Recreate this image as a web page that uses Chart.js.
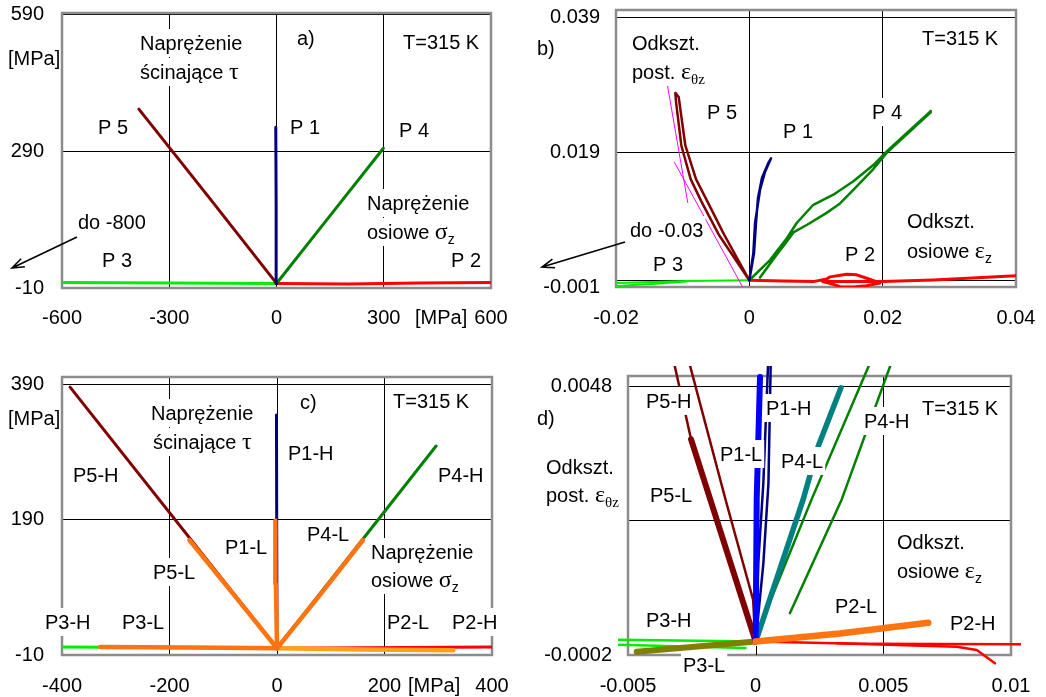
<!DOCTYPE html>
<html>
<head>
<meta charset="utf-8">
<script src="https://cdn.jsdelivr.net/npm/chart.js@4.4.1/dist/chart.umd.min.js"></script>
<style>
  body { margin: 0; background: #fff; }
  #wrap { position: relative; width: 1046px; height: 697px; }
  canvas { position: absolute; }
</style>
</head>
<body>
<div id="wrap">
  <canvas id="ca" width="523" height="345" style="left:0;top:0;width:523px;height:345px"></canvas>
  <canvas id="cb" width="523" height="345" style="left:523px;top:0;width:523px;height:345px"></canvas>
  <canvas id="cc" width="523" height="352" style="left:0;top:345px;width:523px;height:352px"></canvas>
  <canvas id="cd" width="523" height="352" style="left:523px;top:345px;width:523px;height:352px"></canvas>
</div>
<script>
// ---- a) stress paths, sigma_z vs tau [MPa]
const aXTicks = [-600, -300, 0, 300, 600];
const aYTicks = [-10, 290, 590];
const aP1 = [[0, 0], [-1, 170], [-2, 343]];
const aP2 = [[0, 0], [200, -1], [400, 1], [600, 2], [800, 2]];
const aP3 = [[0, 0], [-300, 1], [-600, 2], [-800, 2]];
const aP4 = [[0, 0], [150, 149], [299, 297]];
const aP5 = [[0, 0], [-190, 190], [-385, 383]];

// ---- b) strain paths, eps_z vs eps_thetaz
const bXTicks = [-0.02, 0, 0.02, 0.04];
const bYTicks = [-0.001, 0, 0.019, 0.039];
const bP1 = [[0, 0], [0.0006, 0.004], [0.00086, 0.0085], [0.0016, 0.0134], [0.00236, 0.0161], [0.00326, 0.0181],
             [0.0029, 0.0175], [0.0019, 0.0152], [0.0013, 0.0122], [0.001, 0.0085], [0.0007, 0.004], [0, 0]];
const bP2 = [[0, 0], [0.005, -0.0001], [0.0096, -0.0002], [0.0116, 0.0002], [0.0121, 0.0005], [0.0146, 0.0009],
             [0.0161, 0.0008], [0.0176, 0.0003], [0.0196, -0.0004], [0.0176, -0.0008], [0.0156, -0.001],
             [0.0136, -0.00095], [0.0126, -0.0006], [0.011, -0.0002], [0.015, -0.0002], [0.02, -0.0002],
             [0.0276, 0.00005], [0.041, 0.0007]];
const bP3 = [[0, 0], [-0.0094, -0.0001], [-0.02, -0.0004], [-0.03, -0.0006],
             [-0.03, -0.0011], [-0.02, -0.00085], [-0.014, -0.0005], [-0.0094, -0.0002]];
const bP4 = [[0, 0], [0.0031, 0.003], [0.0056, 0.0062], [0.0071, 0.0085], [0.0096, 0.0112], [0.0126, 0.0127],
             [0.0156, 0.0147], [0.0186, 0.0171], [0.0206, 0.0191], [0.0272, 0.0251],
             [0.0272, 0.0249], [0.0206, 0.0189], [0.0186, 0.0165], [0.0156, 0.0134], [0.0136, 0.0114],
             [0.0116, 0.01], [0.0086, 0.0082], [0.0066, 0.0071], [0.0056, 0.0057], [0.0041, 0.0038], [0.0016, 0.0004]];
const bP5 = [[0, 0], [-0.0046, 0.0068], [-0.0072, 0.0117], [-0.0088, 0.015], [-0.0102, 0.02], [-0.011, 0.0265],
             [-0.0111, 0.0278], [-0.0106, 0.0272], [-0.0096, 0.02], [-0.008, 0.015], [-0.0063, 0.0117],
             [-0.0038, 0.0068], [0, 0]];
const bFit1 = [[-0.01254, 0.0304], [-0.00924, 0.01153]];
const bFit2 = [[-0.01125, 0.01753], [-0.0009, -0.0012]];

// ---- c) stress paths, H and L levels [MPa]
const cXTicks = [-400, -200, 0, 200, 400];
const cYTicks = [-10, 190, 390];
const cP1H = [[0, 0], [-1, 345]];
const cP2H = [[0, 0], [400, 2], [450, 2]];
const cP3H = [[0, 0], [-400, 2], [-450, 2]];
const cP4H = [[0, 0], [296, 299]];
const cP5H = [[0, 0], [-385, 386]];
const cP1L = [[0, 0], [-2, 95], [-3, 189]];
const cP2L = [[0, 0], [160, -2], [328, -3]];
const cP3L = [[0, 0], [-160, 1], [-329, 2]];
const cP4L = [[0, 0], [80, 79], [160, 160]];
const cP5L = [[0, 0], [-80, 79], [-163, 160]];

// ---- d) strain paths, H and L levels
const dXTicks = [-0.005, 0, 0.005, 0.01];
const dYTicks = [-0.0002, 0.0023, 0.0048];
const dP1H = [[0, 0.00005], [0.0001, 0.0015], [0.0003, 0.003], [0.00055, 0.006],
              [0.00062, 0.006], [0.0005, 0.003], [0.0003, 0.0015], [0, 0.00005]];
const dP2H = [[0, 0.00005], [0.004, 0.00001], [0.012, 0]];
const dP2Hb = [[0.00317, 0.00002], [0.00787, -0.000045], [0.00866, -0.000106], [0.00937, -0.000355]];
const dP3H = [[0, 0.00005], [-0.006, 0.00009], [-0.006, 0], [-0.0004, -0.00007]];
const dP4H = [[0, 0.00005], [0.00043, 0.00064], [0.00219, 0.0027], [0.00516, 0.006],
              [0.00589, 0.006], [0.00337, 0.0027], [0.00134, 0.00058]];
const dP5H = [[0, 0.00005], [-0.00253, 0.00382], [-0.00355, 0.006], [-0.00302, 0.006],
              [-0.00116, 0.00266], [-0.0001, 0.00083], [0, 0.00005]];
const dP1L = [[0, 0.00005], [0.00004, 0.0027], [0.00017, 0.00498]];
const dP2L = [[0, 0.00005], [0.0033, 0.0002], [0.00676, 0.0004]];
const dP3L = [[0, 0.00005], [-0.00466, -0.00014]];
const dP4L = [[0, 0.00005], [0.00186, 0.0027], [0.00245, 0.00369], [0.00334, 0.00478]];
const dP5L = [[0, 0.00005], [-0.00253, 0.00382]];

const col = {
  brown: '#800000', navy: '#000080', green: '#008000', lime: '#00ee00', red: '#ff0000',
  magenta: '#ff00ff', blue: '#0000ff', teal: '#008080', olive: '#808000',
  orange: '#ff7410', orange2: '#ffa01c'
};

const FONTS = {
  s: { f: '20px "Liberation Sans", Arial, sans-serif', dy: 0 },
  g: { f: '24px "Liberation Serif", "Times New Roman", serif', dy: 0 },
  sub: { f: '14px "Liberation Sans", Arial, sans-serif', dy: 5 },
  subg: { f: '15px "Liberation Serif", "Times New Roman", serif', dy: 5 }
};
const TAU = [['ścinające ', 's'], ['τ', 'g']];
const SIGZ = [['osiowe ', 's'], ['σ', 'g'], ['z', 'sub']];
const EPSZ = [['osiowe ', 's'], ['ε', 'g'], ['z', 'sub']];
const EPSTZ = [['post. ', 's'], ['ε', 'g'], ['θz', 'subg']];

// labels: [text, x, y(centre), background?]  (canvas pixels)
const ANNOT = {
  ca: {
    labels: [
      ['[MPa]', 8, 58, false], ['Naprężenie', 140, 43], [TAU, 140, 72], ['a)', 297, 38],
      ['T=315 K', 403, 42], ['P 5', 98, 127], ['P 1', 290, 127], ['P 4', 399, 130],
      ['Naprężenie', 367, 203], [SIGZ, 367, 232], ['do -800', 78, 222], ['P 3', 102, 260],
      ['P 2', 451, 260], ['[MPa]', 415, 317, false]
    ],
    arrows: [[77, 237, 12, 268]]
  },
  cb: {
    labels: [
      ['b)', 14, 48, false], ['Odkszt.', 109, 43], [EPSTZ, 109, 72], ['P 5', 184, 112],
      ['P 1', 260, 131], ['P 4', 349, 112], ['T=315 K', 399, 38], ['Odkszt.', 384, 221],
      [EPSZ, 384, 251], ['P 2', 322, 254], ['do -0.03', 107, 230], ['P 3', 130, 264]
    ],
    arrows: [[102, 242, 19, 267]]
  },
  cc: {
    labels: [
      ['[MPa]', 8, 73, false], ['Naprężenie', 151, 68], [TAU, 153, 97], ['c)', 300, 57],
      ['T=315 K', 393, 56], ['P1-H', 288, 108], ['P5-H', 73, 130], ['P4-H', 438, 130],
      ['P4-L', 307, 189], ['P1-L', 225, 202], ['Naprężenie', 371, 207], [SIGZ, 371, 235],
      ['P5-L', 153, 227], ['P3-H', 45, 277], ['P3-L', 122, 277], ['P2-L', 387, 277],
      ['P2-H', 452, 277], ['[MPa]', 408, 340, false]
    ],
    arrows: []
  },
  cd: {
    labels: [
      ['d)', 14, 73, false], ['P5-H', 123, 56], ['P1-H', 243, 63], ['T=315 K', 399, 63],
      ['P4-H', 341, 76], ['P1-L', 197, 109], ['P4-L', 258, 116], ['Odkszt.', 23, 122, false],
      [EPSTZ, 23, 150, false], ['P5-L', 127, 150], ['Odkszt.', 374, 197], [EPSZ, 374, 226],
      ['P2-L', 312, 261], ['P3-H', 123, 275], ['P2-H', 427, 278], ['P3-L', 160, 320]
    ],
    arrows: [],
    zeroTick: true
  }
};

function runsOf(t) { return typeof t === 'string' ? [[t, 's']] : t; }

function drawLabel(ctx, lab) {
  const runs = runsOf(lab[0]);
  const x0 = lab[1], cy = lab[2];
  let w = 0;
  for (const [t, k] of runs) { ctx.font = FONTS[k].f; w += ctx.measureText(t).width; }
  if (lab[3] !== false) {
    ctx.fillStyle = '#fff';
    ctx.fillRect(x0 - 2, cy - 14, w + 4, 28);
  }
  ctx.fillStyle = '#000';
  ctx.textAlign = 'left';
  ctx.textBaseline = 'alphabetic';
  let x = x0;
  for (const [t, k] of runs) {
    ctx.font = FONTS[k].f;
    ctx.fillText(t, x, cy + 7 + FONTS[k].dy);
    x += ctx.measureText(t).width;
  }
}

function drawArrow(ctx, a) {
  const [x1, y1, x2, y2] = a;
  const ang = Math.atan2(y2 - y1, x2 - x1);
  ctx.strokeStyle = '#000';
  ctx.lineWidth = 1.6;
  ctx.beginPath();
  ctx.moveTo(x1, y1);
  ctx.lineTo(x2, y2);
  ctx.moveTo(x2 - 13 * Math.cos(ang - 0.35), y2 - 13 * Math.sin(ang - 0.35));
  ctx.lineTo(x2, y2);
  ctx.lineTo(x2 - 13 * Math.cos(ang + 0.35), y2 - 13 * Math.sin(ang + 0.35));
  ctx.stroke();
}

const annotPlugin = {
  id: 'annot',
  beforeDatasetsDraw(chart) {
    const { ctx, chartArea: a } = chart;
    ctx.save();
    ctx.strokeStyle = '#8c8c8c';
    ctx.lineWidth = 2.5;
    ctx.strokeRect(a.left, a.top, a.right - a.left, a.bottom - a.top);
    ctx.restore();
  },
  afterDatasetsDraw(chart) {
    const spec = ANNOT[chart.canvas.id];
    const { ctx, chartArea: a } = chart;
    ctx.save();
    if (spec.zeroTick) {
      const x0 = Math.round(chart.scales.x.getPixelForValue(0)) + 0.5;
      ctx.strokeStyle = '#000';
      ctx.lineWidth = 1;
      ctx.beginPath();
      ctx.moveTo(x0, a.bottom - 9);
      ctx.lineTo(x0, a.bottom);
      ctx.stroke();
    }
    spec.labels.forEach(l => drawLabel(ctx, l));
    spec.arrows.forEach(ar => drawArrow(ctx, ar));
    ctx.restore();
  }
};

function line(pts, color, width) {
  return {
    data: pts.map(p => ({ x: p[0], y: p[1] })),
    showLine: true, borderColor: color, borderWidth: width, pointRadius: 0,
    borderCapStyle: 'round', borderJoinStyle: 'round', fill: false
  };
}

// the scale's own label padding would push the chart area; the layout padding places it instead
function noPad(ax) {
  ax.paddingTop = 0; ax.paddingBottom = 0; ax.paddingLeft = 0; ax.paddingRight = 0;
}

function makeChart(id, o) {
  const tickFont = { family: '"Liberation Sans", Arial, sans-serif', size: 20 };
  const gridColor = (hidden) => (c) => (c.tick && hidden.includes(c.tick.value)) ? 'rgba(0,0,0,0)' : '#000';
  const datasets = o.series.map(d => Object.assign(d, o.clip !== undefined ? { clip: o.clip } : {}));
  return new Chart(document.getElementById(id), {
    type: 'scatter',
    data: { datasets },
    options: {
      responsive: false,
      animation: false,
      events: [],
      layout: { padding: o.pad },
      plugins: { legend: { display: false }, tooltip: { enabled: false } },
      scales: {
        x: {
          type: 'linear', min: o.x[0], max: o.x[1],
          afterBuildTicks: ax => { ax.ticks = o.xt.map(v => ({ value: v })); },
          afterFit: ax => { ax.height = o.xh; noPad(ax); },
          grid: { color: gridColor(o.xHideGrid || []), lineWidth: 1, drawTicks: false },
          border: { display: false },
          ticks: { font: tickFont, color: '#000', padding: o.xpad, autoSkip: false, maxRotation: 0,
                   callback: v => String(v) }
        },
        y: {
          type: 'linear', min: o.y[0], max: o.y[1],
          afterBuildTicks: ax => { ax.ticks = o.yt.map(v => ({ value: v })); },
          afterFit: ax => { ax.width = o.yw; noPad(ax); },
          grid: { color: '#000', lineWidth: 1, drawTicks: false },
          border: { display: false },
          ticks: { font: tickFont, color: '#000', padding: o.ypad, autoSkip: false,
                   callback: v => (o.yNoLabel || []).includes(v) ? '' : String(v) }
        }
      }
    },
    plugins: [annotPlugin]
  });
}

makeChart('ca', {
  pad: { left: 0, right: 32, top: 13, bottom: 0 }, yw: 62, xh: 57, xpad: 18, ypad: 18,
  x: [-600, 600], y: [-10, 594], xt: aXTicks, yt: aYTicks,
  series: [
    line(aP1, col.navy, 3), line(aP5, col.brown, 3), line(aP4, col.green, 3),
    line(aP2, col.red, 3), line(aP3, col.lime, 3)
  ]
});

makeChart('cb', {
  pad: { left: 0, right: 30, top: 10, bottom: 0 }, yw: 93, xh: 58, xpad: 19, ypad: 16,
  x: [-0.02, 0.04], y: [-0.001, 0.0401], xt: bXTicks, yt: bYTicks, yNoLabel: [0],
  series: [
    line(bFit1, col.magenta, 1), line(bFit2, col.magenta, 1),
    line(bP1, col.navy, 2.5), line(bP5, col.brown, 2.5), line(bP4, col.green, 2.5),
    line(bP2, col.red, 3), line(bP3, col.lime, 2)
  ]
});

makeChart('cc', {
  pad: { left: 0, right: 31, top: 32, bottom: 0 }, yw: 62, xh: 42, xpad: 19, ypad: 18,
  x: [-400, 400], y: [-10, 401], xt: cXTicks, yt: cYTicks,
  series: [
    line(cP1L, col.orange, 4.5), line(cP5L, col.orange, 4.5), line(cP4L, col.orange, 4.5),
    line(cP3L, col.orange, 4.5), line(cP2L, col.orange2, 4.5),
    line(cP1H, col.navy, 3), line(cP5H, col.brown, 3), line(cP4H, col.green, 3),
    line(cP2H, col.red, 3), line(cP3H, col.lime, 3)
  ]
});

makeChart('cd', {
  pad: { left: 0, right: 35, top: 31, bottom: 0 }, yw: 105, xh: 42, xpad: 19, ypad: 16,
  x: [-0.005, 0.01], y: [-0.0002, 0.005], xt: dXTicks, yt: dYTicks, yNoLabel: [0.0023],
  xHideGrid: [0], clip: 10,
  series: [
    line(dP2L, col.orange, 6.5), line(dP1L, col.blue, 6), line(dP4L, col.teal, 5.5),
    line(dP5L, col.brown, 6), line(dP3L, col.olive, 6),
    line(dP1H, col.navy, 2.5), line(dP5H, col.brown, 2.5), line(dP4H, col.green, 2.5),
    line(dP2H, col.red, 2.5), line(dP2Hb, col.red, 2.5), line(dP3H, col.lime, 2.5)
  ]
});
</script>
</body>
</html>
